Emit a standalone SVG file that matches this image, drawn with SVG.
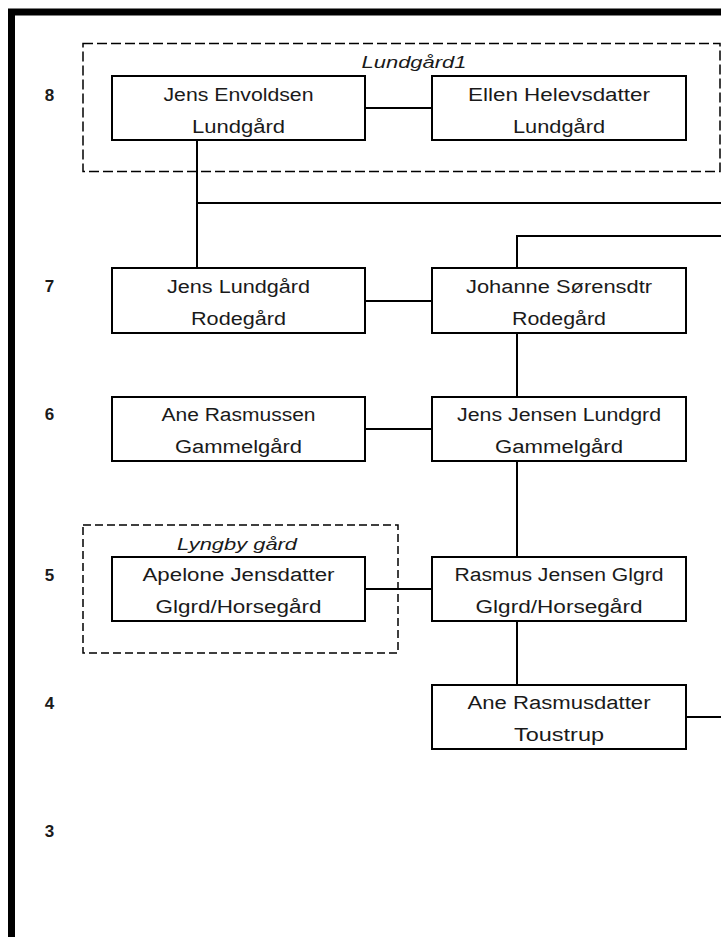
<svg xmlns="http://www.w3.org/2000/svg" width="721" height="937" viewBox="0 0 721 937">
<style>
  .box { fill: #fff; stroke: #000; stroke-width: 2; }
  .t { font-family: "Liberation Sans", Arial, sans-serif; font-size: 18px; fill: #1a1a1a; text-anchor: middle; }
  .gen { font-family: "Liberation Sans", Arial, sans-serif; font-size: 17px; font-weight: bold; fill: #1a1a1a; text-anchor: middle; }
  .grp { fill: none; stroke: #000; stroke-width: 1.5; }
  .glabel { font-family: "Liberation Sans", Arial, sans-serif; font-size: 17px; font-style: italic; fill: #1a1a1a; text-anchor: middle; }
  .conn line { stroke: #000; stroke-width: 2; }
</style>
<rect x="0" y="0" width="721" height="937" fill="#fff"/>
<path d="M11.5 937 V12 H721" fill="none" stroke="#000" stroke-width="7"/>

<g id="generations">
  <text class="gen" x="49.5" y="101">8</text>
  <text class="gen" x="49.5" y="292">7</text>
  <text class="gen" x="49.5" y="420">6</text>
  <text class="gen" x="49.5" y="581">5</text>
  <text class="gen" x="49.5" y="709">4</text>
  <text class="gen" x="49.5" y="837">3</text>
</g>

<g id="group-lundgaard1">
  <rect class="grp" x="83" y="43.5" width="637" height="128" stroke-dasharray="10 4"/>
  <text class="glabel" x="414" y="68" textLength="105" lengthAdjust="spacingAndGlyphs">Lundgård1</text>
</g>
<g id="group-lyngby">
  <rect class="grp" x="83" y="525" width="315" height="128" stroke-dasharray="8 4"/>
  <text class="glabel" x="237" y="550" textLength="120" lengthAdjust="spacingAndGlyphs">Lyngby gård</text>
</g>

<g id="connectors" class="conn">
  <line x1="365" y1="108" x2="432" y2="108"/>
  <line x1="197" y1="140" x2="197" y2="268"/>
  <line x1="197" y1="203" x2="721" y2="203"/>
  <line x1="516" y1="236" x2="721" y2="236"/>
  <line x1="517" y1="235" x2="517" y2="268"/>
  <line x1="365" y1="301" x2="432" y2="301"/>
  <line x1="517" y1="333" x2="517" y2="397"/>
  <line x1="365" y1="429" x2="432" y2="429"/>
  <line x1="517" y1="461" x2="517" y2="557"/>
  <line x1="365" y1="589" x2="432" y2="589"/>
  <line x1="517" y1="621" x2="517" y2="685"/>
  <line x1="686" y1="717" x2="721" y2="717"/>
</g>

<g id="n8a">
  <rect class="box" x="112" y="76" width="253" height="64"/>
  <text class="t" x="238.5" y="101" textLength="150" lengthAdjust="spacingAndGlyphs">Jens Envoldsen</text>
  <text class="t" x="238.5" y="133" textLength="93" lengthAdjust="spacingAndGlyphs">Lundgård</text>
</g>
<g id="n8b">
  <rect class="box" x="432" y="76" width="254" height="64"/>
  <text class="t" x="559" y="101" textLength="182" lengthAdjust="spacingAndGlyphs">Ellen Helevsdatter</text>
  <text class="t" x="559" y="133" textLength="92" lengthAdjust="spacingAndGlyphs">Lundgård</text>
</g>
<g id="n7a">
  <rect class="box" x="112" y="268" width="253" height="65"/>
  <text class="t" x="238.5" y="293" textLength="143" lengthAdjust="spacingAndGlyphs">Jens Lundgård</text>
  <text class="t" x="238.5" y="325" textLength="95" lengthAdjust="spacingAndGlyphs">Rodegård</text>
</g>
<g id="n7b">
  <rect class="box" x="432" y="268" width="254" height="65"/>
  <text class="t" x="559" y="293" textLength="186" lengthAdjust="spacingAndGlyphs">Johanne Sørensdtr</text>
  <text class="t" x="559" y="325" textLength="94" lengthAdjust="spacingAndGlyphs">Rodegård</text>
</g>
<g id="n6a">
  <rect class="box" x="112" y="397" width="253" height="64"/>
  <text class="t" x="238.5" y="421" textLength="154" lengthAdjust="spacingAndGlyphs">Ane Rasmussen</text>
  <text class="t" x="238.5" y="453" textLength="127" lengthAdjust="spacingAndGlyphs">Gammelgård</text>
</g>
<g id="n6b">
  <rect class="box" x="432" y="397" width="254" height="64"/>
  <text class="t" x="559" y="421" textLength="204" lengthAdjust="spacingAndGlyphs">Jens Jensen Lundgrd</text>
  <text class="t" x="559" y="453" textLength="128" lengthAdjust="spacingAndGlyphs">Gammelgård</text>
</g>
<g id="n5a">
  <rect class="box" x="112" y="557" width="253" height="64"/>
  <text class="t" x="238.5" y="581" textLength="192" lengthAdjust="spacingAndGlyphs">Apelone Jensdatter</text>
  <text class="t" x="238.5" y="613" textLength="166" lengthAdjust="spacingAndGlyphs">Glgrd/Horsegård</text>
</g>
<g id="n5b">
  <rect class="box" x="432" y="557" width="254" height="64"/>
  <text class="t" x="559" y="581" textLength="209" lengthAdjust="spacingAndGlyphs">Rasmus Jensen Glgrd</text>
  <text class="t" x="559" y="613" textLength="167" lengthAdjust="spacingAndGlyphs">Glgrd/Horsegård</text>
</g>
<g id="n4b">
  <rect class="box" x="432" y="685" width="254" height="64"/>
  <text class="t" x="559" y="709" textLength="183" lengthAdjust="spacingAndGlyphs">Ane Rasmusdatter</text>
  <text class="t" x="559" y="741" textLength="90" lengthAdjust="spacingAndGlyphs">Toustrup</text>
</g>
</svg>
